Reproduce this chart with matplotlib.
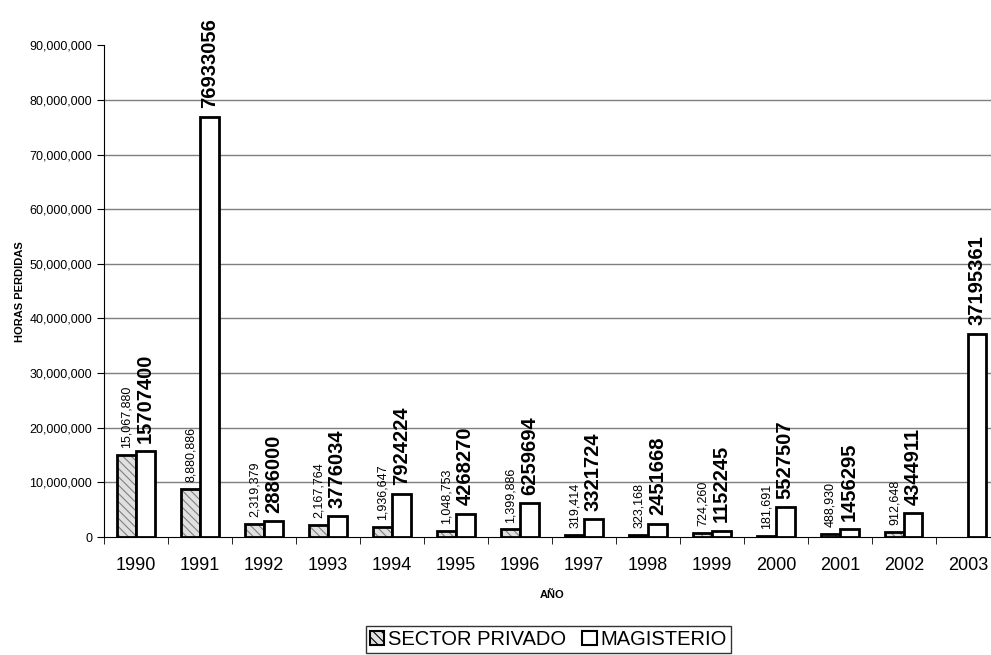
import numpy as np
import matplotlib
matplotlib.use("Agg")
import matplotlib.pyplot as plt
from matplotlib.patches import Patch
from matplotlib.ticker import FuncFormatter, FixedLocator

plt.rcParams['font.family'] = ['Liberation Sans', 'DejaVu Sans']
plt.rcParams['hatch.color'] = '#7f7f7f'
plt.rcParams['hatch.linewidth'] = 0.8

years = ['1990', '1991', '1992', '1993', '1994', '1995', '1996',
         '1997', '1998', '1999', '2000', '2001', '2002', '2003']
privado = [15067880, 8880886, 2319379, 2167764, 1936647, 1048753, 1399886,
           319414, 323168, 724260, 181691, 488930, 912648, np.nan]
magisterio = [15707400, 76933056, 2886000, 3776034, 7924224, 4268270, 6259694,
              3321724, 2451668, 1152245, 5527507, 1456295, 4344911, 37195361]

fig = plt.figure(figsize=(9.91, 6.55), dpi=100)
ax = fig.add_axes([0.105, 0.18, 0.904, 0.751])

x = np.arange(len(years))
w = 0.29

ax.bar(x - w/2, privado, w, facecolor='#e0e0e0', edgecolor='#7f7f7f',
       hatch='\\\\\\\\', linewidth=0, zorder=3)
ax.bar(x - w/2, privado, w, facecolor='none', edgecolor='black',
       linewidth=2, zorder=4)
ax.bar(x + w/2, magisterio, w, facecolor='white', edgecolor='black',
       linewidth=2, zorder=4)

for xi, v in zip(x, privado):
    if not np.isnan(v):
        ax.annotate(f'{int(v):,}', (xi - w/2, v), xytext=(0, 5),
                    textcoords='offset points', rotation=90, ha='center',
                    va='bottom', fontsize=9, zorder=5)
for xi, v in zip(x, magisterio):
    ax.annotate(f'{int(v)}', (xi + w/2, v), xytext=(0, 6),
                textcoords='offset points', rotation=90, ha='center',
                va='bottom', fontsize=14.5, fontweight='bold', zorder=5)

ax.set_xlim(-0.5, len(years) - 0.5)
ax.set_ylim(0, 90000000)
ax.set_yticks(np.arange(0, 90000001, 10000000))
ax.yaxis.set_major_formatter(FuncFormatter(lambda v, p: f'{int(v):,}'))
for yv in range(10000000, 90000000, 10000000):
    ax.axhline(yv, color='#7f7f7f', linewidth=1, zorder=1)

ax.set_xticks(x)
ax.set_xticklabels(years, fontsize=13)
ax.tick_params(axis='x', which='major', length=0, pad=14)
ax.xaxis.set_minor_locator(FixedLocator(np.arange(-0.5, len(years), 1.0)))
ax.tick_params(axis='x', which='minor', length=5, direction='out', color='black')
ax.tick_params(axis='y', labelsize=9, length=5, direction='out')

for s in ['top', 'right']:
    ax.spines[s].set_visible(False)

ax.set_xlabel('AÑO', fontsize=8, fontweight='bold', labelpad=12)
fig.text(0.020, 0.18 + 0.751 / 2, 'HORAS PERDIDAS', rotation=90, fontsize=8,
         fontweight='bold', ha='center', va='center')

handles = [Patch(facecolor='#e0e0e0', edgecolor='black', hatch='\\\\\\\\',
                 linewidth=1.5, label='SECTOR PRIVADO'),
           Patch(facecolor='white', edgecolor='black', linewidth=1.5,
                 label='MAGISTERIO')]
leg = fig.legend(handles=handles, loc='center', bbox_to_anchor=(0.5535, 0.024),
                 ncol=2, fontsize=14.5, frameon=True, fancybox=False,
                 edgecolor='black', handlelength=0.7, handleheight=0.7,
                 handletextpad=0.2, columnspacing=0.8, borderpad=0.2,
                 borderaxespad=0)
leg.get_frame().set_linewidth(1)

fig.savefig('out.png', dpi=100)
